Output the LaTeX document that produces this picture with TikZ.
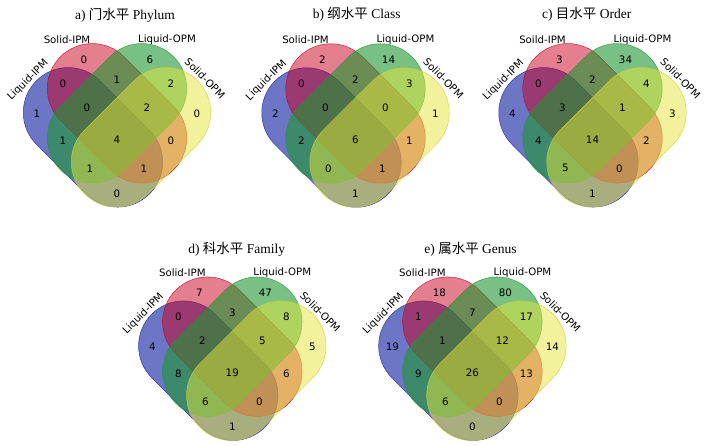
\documentclass[tikz,border=0pt]{standalone}
\usepackage{fontspec}
\setmainfont{DejaVu Sans}
\newfontfamily\titlefont{Liberation Serif}
\newfontfamily\cjk{Noto Sans CJK SC}
\definecolor{vblue}{RGB}{20,35,160}
\definecolor{vred}{RGB}{200,0,30}
\definecolor{vgreen}{RGB}{30,150,50}
\definecolor{vyellow}{RGB}{230,230,60}
\tikzset{
  setA/.style={fill=vblue, fill opacity=0.62, draw=vblue, draw opacity=0.8, line width=0.5pt},
  setB/.style={fill=vred, fill opacity=0.5, draw=vred, draw opacity=0.8, line width=0.5pt},
  setC/.style={fill=vgreen, fill opacity=0.6, draw=vgreen, draw opacity=0.8, line width=0.5pt},
  setD/.style={fill=vyellow, fill opacity=0.5, draw=vyellow!90!black, draw opacity=0.8, line width=0.5pt},
  num/.style={font=\fontsize{10.3}{12}\selectfont, text=black, inner sep=0pt},
  lab/.style={font=\fontsize{10.2}{12}\selectfont, text=black, inner sep=0pt},
  ttl/.style={font=\titlefont\fontsize{13.5}{16}\selectfont, text=black, inner sep=0pt}
}
\newcommand\stadium[4]{%
  \path[#1, shift={(#2,#3)}, rotate=#4] (-35,-45) -- (35,-45)
    arc[start angle=-90,end angle=90,radius=45] -- (-35,45)
    arc[start angle=90,end angle=270,radius=45] -- cycle;}
\newcommand\panelshapes[2]{% prefix, Solid-IPM label
  \stadium{setA}{-24}{24}{-45}
  \stadium{setB}{0}{0}{-45}
  \stadium{setC}{0}{0}{45}
  \stadium{setD}{24}{24}{45}
  \node[lab] (#1lB) at (-50,-74) {#2};
  \node[lab] (#1lC) at (50,-74) {Liquid-OPM};
  \node[lab,rotate=45] (#1lA) at (-89,-33) {Liquid-IPM};
  \node[lab,rotate=-45] (#1lD) at (88,-35) {Solid-OPM};}
\newcommand\VNa[9]{%
  \node[num] (#1A) at (-80,0) {#2};
  \node[num] (#1B) at (-33,-54) {#3};
  \node[num] (#1C) at (33,-54) {#4};
  \node[num] (#1D) at (80,0) {#5};
  \node[num] (#1AB) at (-54,-30) {#6};
  \node[num] (#1BC) at (0,-34) {#7};
  \node[num] (#1CD) at (54,-30) {#8};
  \node[num] (#1ABC) at (-30,-6) {#9};}
\newcommand\VNb[8]{%
  \node[num] (#1BCD) at (30,-6) {#2};
  \node[num] (#1AC) at (-54,27) {#3};
  \node[num] (#1ABCD) at (0,26) {#4};
  \node[num] (#1BD) at (54,27) {#5};
  \node[num] (#1ACD) at (-27,55) {#6};
  \node[num] (#1ABD) at (27,55) {#7};
  \node[num] (#1AD) at (0,80) {#8};}
\begin{document}
\begin{tikzpicture}[x=1pt,y=-1pt]
\fill[white] (0,0) rectangle (709,446);
\useasboundingbox (0,0) rectangle (709,446);
% titles
\node[ttl] (ta) at (125,15) {a) {\cjk 门水平} Phylum};
\node[ttl] (tb) at (356.7,14.5) {b) {\cjk 纲水平} Class};
\node[ttl] (tc) at (586.7,14.5) {c) {\cjk 目水平} Order};
\node[ttl] (td) at (236.7,249.3) {d) {\cjk 科水平} Family};
\node[ttl] (te) at (470.5,249.3) {e) {\cjk 属水平} Genus};
% panel a
\begin{scope}[shift={(117,113.3)}]
  \panelshapes{a}{Solid-IPM}
  \VNa{a}{1}{0}{6}{0}{0}{1}{2}{0}
  \VNb{a}{2}{1}{4}{0}{1}{1}{0}
\end{scope}
% panel b
\begin{scope}[shift={(355.5,113.5)}]
  \panelshapes{b}{Solid-IPM}
  \VNa{b}{2}{2}{14}{1}{0}{2}{3}{0}
  \VNb{b}{0}{2}{6}{1}{0}{1}{1}
\end{scope}
% panel c
\begin{scope}[shift={(592.5,113.3)}]
  \panelshapes{c}{Soild-IPM}
  \VNa{c}{4}{3}{34}{3}{0}{2}{4}{3}
  \VNb{c}{1}{4}{14}{2}{5}{0}{1}
\end{scope}
% panel d
\begin{scope}[shift={(232.3,346.7)}]
  \panelshapes{d}{Solid-IPM}
  \VNa{d}{4}{7}{47}{5}{0}{3}{8}{2}
  \VNb{d}{5}{8}{19}{6}{6}{0}{1}
\end{scope}
% panel e
\begin{scope}[shift={(472.4,346.7)}]
  \panelshapes{e}{Solid-IPM}
  \VNa{e}{19}{18}{80}{14}{1}{7}{17}{1}
  \VNb{e}{12}{9}{26}{13}{6}{0}{0}
\end{scope}
\end{tikzpicture}
\end{document}
